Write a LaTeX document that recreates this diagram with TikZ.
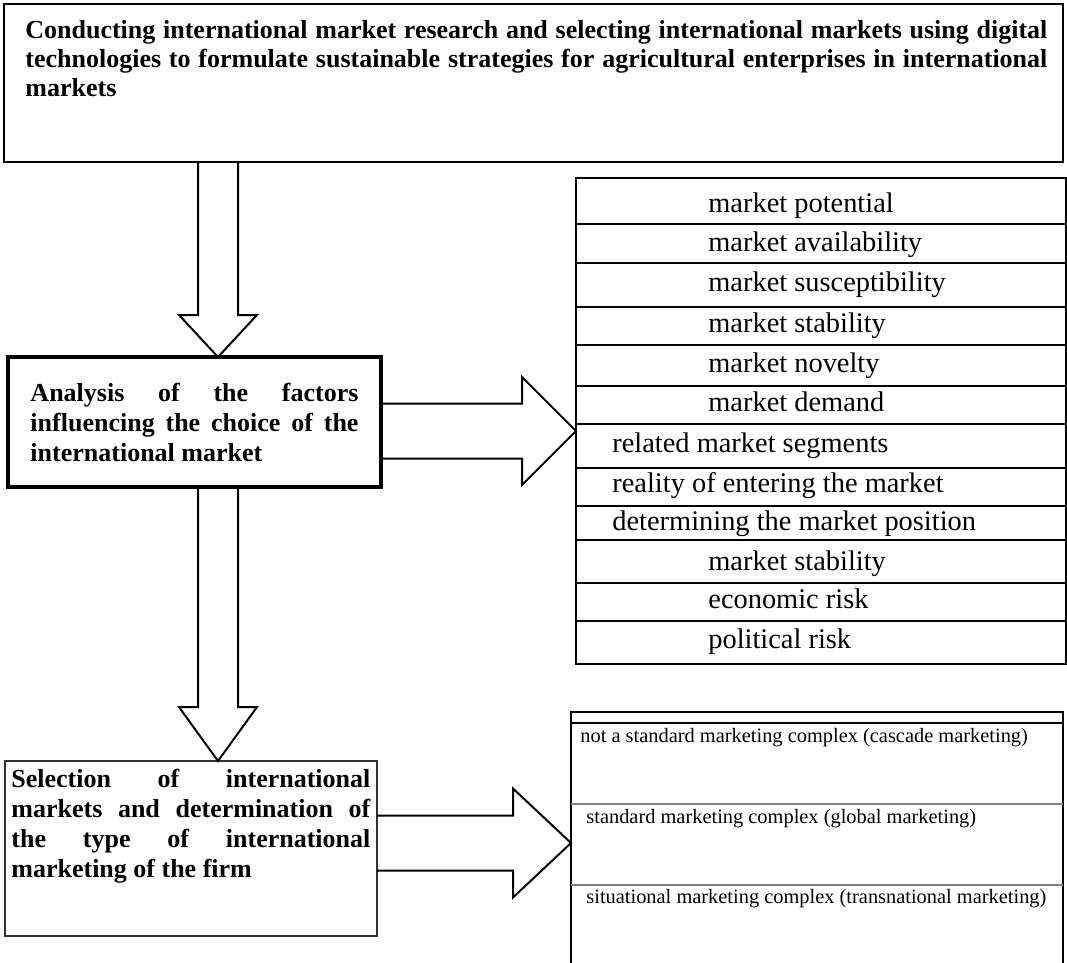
\documentclass[tikz,border=0pt]{standalone}
\usepackage{fontspec}
\setmainfont{Liberation Serif}
\usetikzlibrary{calc, fit}
\hyphenpenalty=10000

% hollow block arrow: start, tip, half shaft, half head, head length
\newcommand{\fatarrow}[5]{%
  \coordinate (fatbase) at ($(#2)!#5!(#1)$);
  \draw[fat arrow] ($(#1)!#3!90:(#2)$) -- ($(fatbase)!#3!90:(#2)$)
    -- ($(fatbase)!#4!90:(#2)$) -- (#2) -- ($(fatbase)!#4!-90:(#2)$)
    -- ($(fatbase)!#3!-90:(#2)$) -- ($(#1)!#3!-90:(#2)$);
}

\tikzset{
  frame/.style={draw, inner sep=0pt, outer sep=0pt},
  fat arrow/.style={line width=1pt, line join=miter},
  headtext/.style={font=\bfseries\fontsize{13}{15}\selectfont, align=justify, inner sep=0pt},
  factor/.style={font=\fontsize{14.2}{16}\selectfont, inner sep=0pt, anchor=base west},
  option/.style={font=\fontsize{10.2}{12}\selectfont, inner sep=0pt, anchor=base west},
  rowline/.style={line width=0.8pt},
}

\begin{document}
\begin{tikzpicture}[x=0.5pt, y=-0.5pt]
\useasboundingbox (0,0) rectangle (1067,963);

% research box
\node[frame, line width=1pt, fit={(4,4) (1063,162)}] (research) {};
\node[headtext, font=\bfseries\fontsize{13}{14.5}\selectfont, text width=511pt, anchor=base west] (researchtext) at (25,39)
  {Conducting international market research and selecting international markets using digital\linebreak
   technologies to formulate sustainable strategies for agricultural enterprises in international\linebreak
   markets};

% analysis box
\node[frame, headtext, line width=2pt, text width=164pt, minimum width=186.5pt, minimum height=65pt, anchor=north west] (analysis) at (8,357)
  {Analysis of the factors\linebreak influencing the choice of the\linebreak international market};

% selection box
\node[frame, line width=1pt, draw=black!80, fit={(5,761) (377,936)}] (selection) {};
\node[headtext, text width=179.5pt, anchor=base west] (selectiontext) at (11,787)
  {Selection of international\linebreak markets and determination of\linebreak the type of international\linebreak marketing of the firm};

% factors list
\node[frame, line width=1pt, fit={(576,178) (1066,664)}] (factors) {};
\draw[rowline] (factors.west |- 0,224) -- (factors.east |- 0,224);
\draw[rowline] (factors.west |- 0,263) -- (factors.east |- 0,263);
\draw[rowline] (factors.west |- 0,307) -- (factors.east |- 0,307);
\draw[rowline] (factors.west |- 0,345) -- (factors.east |- 0,345);
\draw[rowline] (factors.west |- 0,386) -- (factors.east |- 0,386);
\draw[rowline] (factors.west |- 0,424) -- (factors.east |- 0,424);
\draw[rowline] (factors.west |- 0,468) -- (factors.east |- 0,468);
\draw[rowline] (factors.west |- 0,506) -- (factors.east |- 0,506);
\draw[rowline] (factors.west |- 0,540) -- (factors.east |- 0,540);
\draw[rowline] (factors.west |- 0,583) -- (factors.east |- 0,583);
\draw[rowline] (factors.west |- 0,621) -- (factors.east |- 0,621);
\node[factor] (potential) at (708,213) {market potential};
\node[factor] (availability) at (708,252) {market availability};
\node[factor] (susceptibility) at (708,292) {market susceptibility};
\node[factor] (stability) at (708,332) {market stability};
\node[factor] (novelty) at (708,372) {market novelty};
\node[factor] (demand) at (708,411) {market demand};
\node[factor] (segments) at (612,452) {related market segments};
\node[factor] (entering) at (612,492) {reality of entering the market};
\node[factor] (position) at (612,530) {determining the market position};
\node[factor] (stability2) at (708,570) {market stability};
\node[factor] (econrisk) at (708,608) {economic risk};
\node[factor] (polrisk) at (708,648) {political risk};

% marketing types (open at the bottom)
\node[inner sep=0pt, outer sep=0pt, fit={(571,712) (1063,963)}] (types) {};
\draw[line width=0.8pt] (types.south west) -- (types.north west) -- (types.north east) -- (types.south east);
\draw[rowline] (types.west |- 0,723) -- (types.east |- 0,723);
\draw[rowline, gray] (types.west |- 0,804) -- (types.east |- 0,804);
\draw[rowline, gray] (types.west |- 0,885) -- (types.east |- 0,885);
\node[option] (cascade) at (580,742) {not a standard marketing complex (cascade marketing)};
\node[option] (global) at (586,823) {standard marketing complex (global marketing)};
\node[option] (transnational) at (586,903) {situational marketing complex (transnational marketing)};

% block arrows
\coordinate (a1s) at (research.south -| 218,0);
\coordinate (a1e) at (analysis.north -| 218,0);
\fatarrow{a1s}{a1e}{10pt}{19.5pt}{21pt}
\coordinate (a2s) at (analysis.south -| 218,0);
\coordinate (a2e) at (selection.north -| 218,0);
\fatarrow{a2s}{a2e}{10pt}{19.5pt}{27pt}
\coordinate (a3s) at (analysis.east |- 0,431);
\coordinate (a3e) at (factors.west |- a3s);
\fatarrow{a3s}{a3e}{13.75pt}{27pt}{27pt}
\coordinate (a4s) at (selection.east |- 0,843);
\coordinate (a4e) at (types.west |- a4s);
\fatarrow{a4s}{a4e}{13.75pt}{27.25pt}{29pt}
\end{tikzpicture}
\end{document}
